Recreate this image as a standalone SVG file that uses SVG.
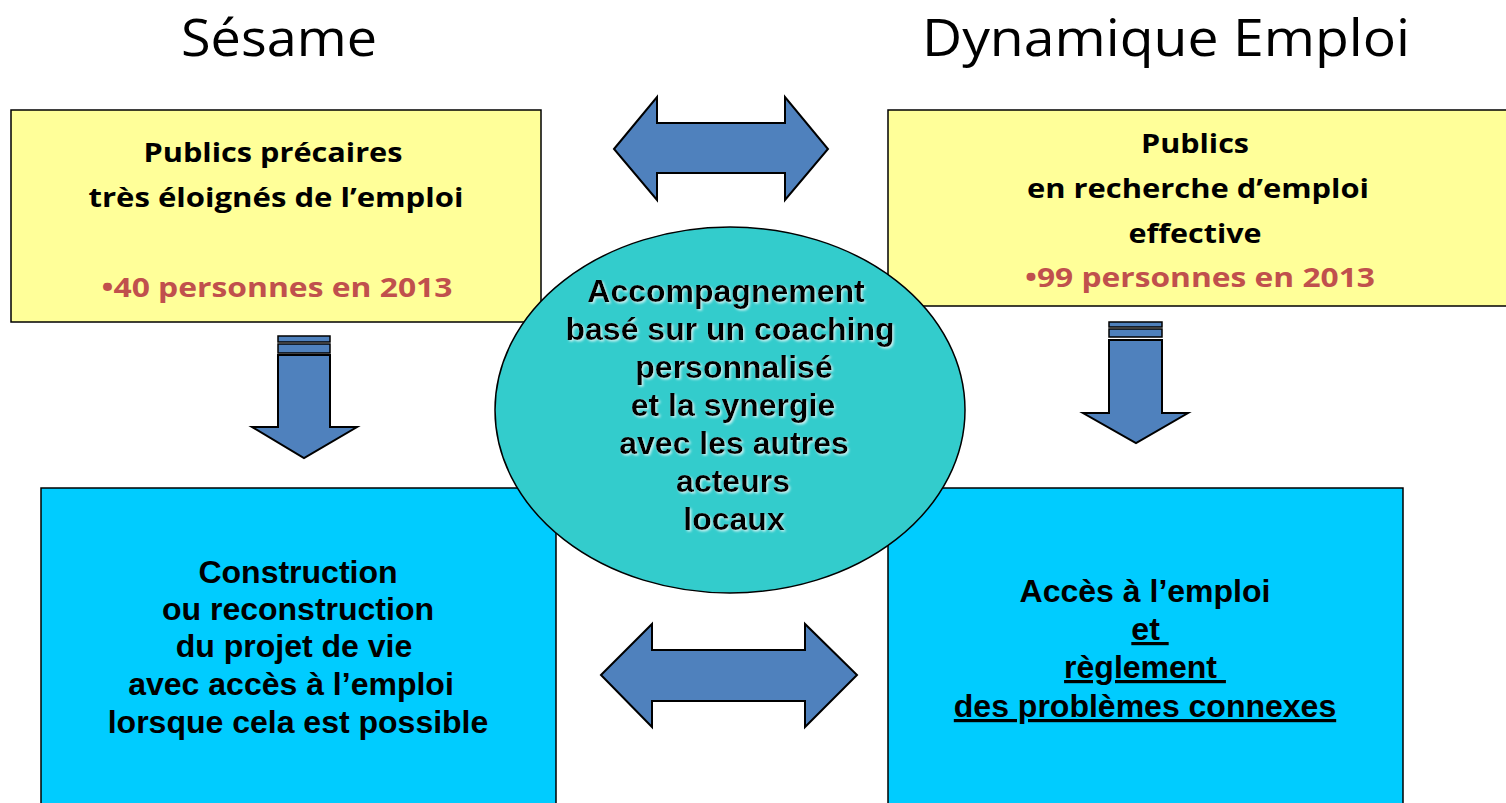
<svg xmlns="http://www.w3.org/2000/svg" width="1506" height="803" viewBox="0 0 1506 803">
<style>
.title{font-family:"Open Sans","Liberation Sans",sans-serif;font-size:52px;fill:#000;text-anchor:middle}
.ytxt{font-family:"Open Sans","Liberation Sans",sans-serif;font-weight:700;font-size:27px;fill:#000;text-anchor:middle}
.red{fill:#C0504D}
.btxt{font-family:"Liberation Sans",Arial,sans-serif;font-weight:700;font-size:32px;fill:#000;text-anchor:middle}
.etxt{font-family:"Liberation Sans",Arial,sans-serif;font-weight:700;font-size:32px;fill:#000;text-anchor:middle;filter:url(#glow)}
.ybox{fill:#FFFF99;stroke:#000;stroke-width:1.5}
.bbox{fill:#00CCFF;stroke:#000;stroke-width:1.5}
.arrow{fill:#4F81BD;stroke:#000;stroke-width:2;stroke-linejoin:miter}
.bar{fill:#4F81BD;stroke:#000;stroke-width:1.5}
.ul{text-decoration:underline;white-space:pre}
</style>
<defs>
<filter id="glow" x="-10%" y="-30%" width="120%" height="160%">
<feDropShadow dx="1.5" dy="1.5" stdDeviation="0.8" flood-color="#ffffff" flood-opacity="0.75"/>
</filter>
</defs>
<rect width="1506" height="803" fill="#fff"/>

<g id="title-sesame"><text class="title" x="279" y="56" textLength="196" lengthAdjust="spacingAndGlyphs">Sésame</text></g>
<g id="title-dynamique"><text class="title" x="1166" y="56" textLength="488" lengthAdjust="spacingAndGlyphs">Dynamique Emploi</text></g>

<g id="box-publics-precaires">
<rect class="ybox" x="11" y="110" width="530" height="212"/>
<text class="ytxt" x="273" y="162" textLength="259" lengthAdjust="spacingAndGlyphs">Publics précaires</text>
<text class="ytxt" x="276" y="207" textLength="375" lengthAdjust="spacingAndGlyphs">très éloignés de l’emploi</text>
<text class="ytxt red" x="277" y="297" textLength="351" lengthAdjust="spacingAndGlyphs">•40 personnes en 2013</text>
</g>

<g id="box-publics-recherche">
<rect class="ybox" x="888" y="110" width="630" height="196"/>
<text class="ytxt" x="1195" y="153" textLength="108" lengthAdjust="spacingAndGlyphs">Publics</text>
<text class="ytxt" x="1198" y="198" textLength="342" lengthAdjust="spacingAndGlyphs">en recherche d’emploi</text>
<text class="ytxt" x="1195" y="243" textLength="133" lengthAdjust="spacingAndGlyphs">effective</text>
<text class="ytxt red" x="1200" y="287" textLength="350" lengthAdjust="spacingAndGlyphs">•99 personnes en 2013</text>
</g>

<g id="box-construction">
<rect class="bbox" x="41" y="488" width="515" height="330"/>
<text class="btxt" x="298" y="583">Construction</text>
<text class="btxt" x="298" y="620">ou reconstruction</text>
<text class="btxt" x="294" y="657">du projet de vie</text>
<text class="btxt" x="291" y="695">avec accès à l’emploi</text>
<text class="btxt" x="298" y="733">lorsque cela est possible</text>
</g>

<g id="box-acces-emploi">
<rect class="bbox" x="888" y="488" width="515" height="330"/>
<text class="btxt" x="1145" y="602">Accès à l’emploi</text>
<text class="btxt ul" x="1150" y="640" xml:space="preserve">et </text>
<text class="btxt ul" x="1145" y="678" xml:space="preserve">règlement </text>
<text class="btxt ul" x="1145" y="717">des problèmes connexes</text>
</g>

<g id="ellipse-accompagnement">
<ellipse cx="730" cy="410" rx="235" ry="183" fill="#33CCCC" stroke="#000" stroke-width="1.5"/>
<text class="etxt" x="726" y="302">Accompagnement</text>
<text class="etxt" x="730" y="340">basé sur un coaching</text>
<text class="etxt" x="734" y="378">personnalisé</text>
<text class="etxt" x="733" y="416">et la synergie</text>
<text class="etxt" x="734" y="454">avec les autres</text>
<text class="etxt" x="733" y="492">acteurs</text>
<text class="etxt" x="734" y="530">locaux</text>
</g>

<g id="connectors">
<polygon class="arrow" points="614,149 657,97 657,123 785,123 785,97 828,149 785,200 785,173 657,173 657,200"/>
<polygon class="arrow" points="601,675 652,624 652,650 805,650 805,624 857,675 805,727 805,701 652,701 652,727"/>
<g id="arrow-down-left">
<rect class="bar" x="278" y="336" width="52" height="6"/>
<rect class="bar" x="278" y="344" width="52" height="9"/>
<polygon class="arrow" points="278,355 330,355 330,427 357,427 304,458 252,427 278,427"/>
</g>
<g id="arrow-down-right">
<rect class="bar" x="1109" y="322" width="53" height="5"/>
<rect class="bar" x="1109" y="329" width="53" height="8"/>
<polygon class="arrow" points="1109,340 1162,340 1162,413 1188,413 1136,443 1083,413 1109,413"/>
</g>
</g>
</svg>
